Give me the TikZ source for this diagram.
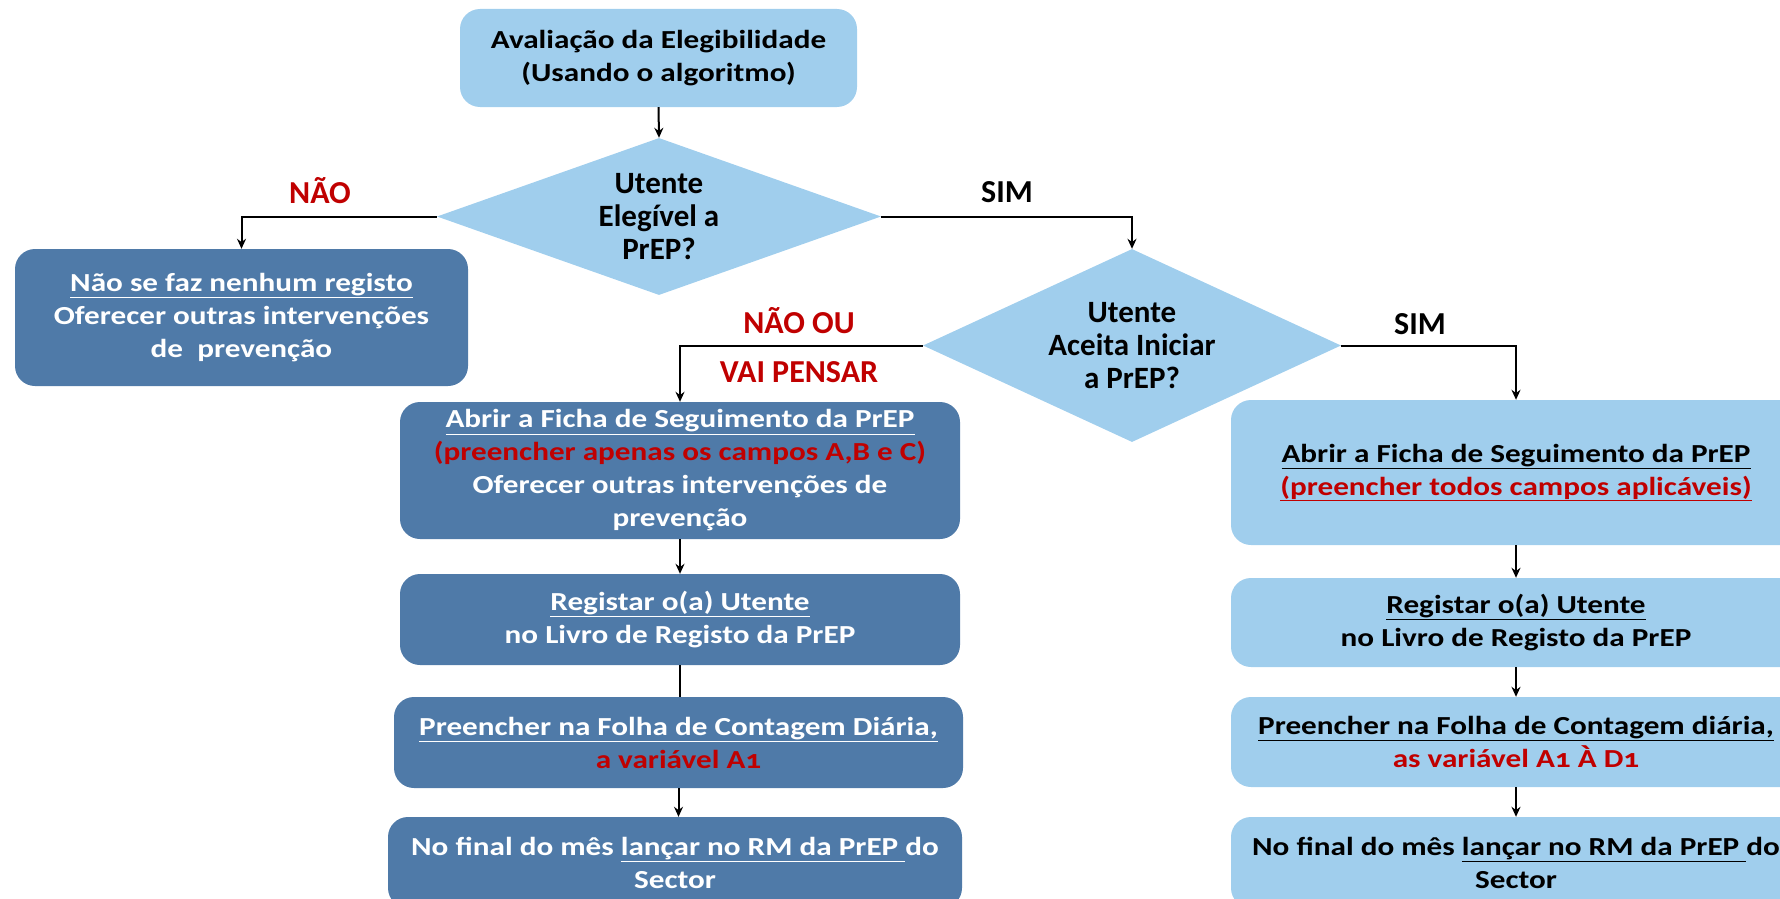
\documentclass[tikz,border=0pt]{standalone}
\usepackage{fontspec}
\setmainfont{Carlito}
\newfontfamily\boxfont[FakeStretch=1.2]{Carlito}
\newfontfamily\boxfontold[FakeStretch=1.2,Numbers=OldStyle]{Carlito}
\usetikzlibrary{shapes.geometric,arrows.meta}
\definecolor{lb}{RGB}{160,206,237}
\definecolor{db}{RGB}{79,122,168}
\definecolor{rd}{RGB}{192,0,0}
\begin{document}
\begin{tikzpicture}[x=1pt,y=-1pt,
 box/.style={rounded corners=20pt, align=center, inner sep=0pt, font=\boxfont\fontsize{26}{33}\selectfont\bfseries},
 lbox/.style={box, fill=lb, text=black},
 dbox/.style={box, fill=db, text=white},
 dia/.style={diamond, fill=lb, inner sep=0pt, align=center, font=\fontsize{31}{33}\selectfont\bfseries},
 arr/.style={-{Stealth[length=10pt,width=9pt]}, line width=2pt},
 ln/.style={line width=2pt},
 lab/.style={font=\fontsize{32}{34}\selectfont\bfseries}]
\useasboundingbox (0,0) rectangle (1780,899);
\begin{scope}
\clip (0,0) rectangle (1780,899);
\node[lbox, minimum width=397pt, minimum height=98pt] (top) at (658.5,58) {Avaliação da Elegibilidade\\(Usando o algoritmo)};
\node[dia, aspect=2.8, minimum width=444pt, minimum height=157pt] (d1) at (659,216.5) {Utente\\Elegível a\\PrEP?};
\node[dbox, minimum width=453pt, minimum height=137pt] (n1) at (241.5,317.5) {\underline{Não se faz nenhum registo}\\Oferecer outras intervenções\\de\ \ prevenção};
\node[dia, aspect=2.2, minimum width=418pt, minimum height=193pt] (d2) at (1132,345.5) {Utente\\Aceita Iniciar\\a PrEP?};
\node[dbox, minimum width=560pt, minimum height=137pt] (l1) at (680,470.5) {\underline{Abrir a Ficha de Seguimento da PrEP}\\\textcolor{rd}{(preencher apenas os campos A,B e C)}\\Oferecer outras intervenções de\\prevenção};
\node[dbox, minimum width=560pt, minimum height=91pt] (l2) at (680,619.5) {\underline{Registar o(a) Utente}\\no Livro de Registo da PrEP};
\node[dbox, minimum width=569pt, minimum height=91pt] (l3) at (678.5,742.5) {\underline{Preencher na Folha de Contagem Diária,}\\\textcolor{rd}{a variável A{\boxfontold 1}}};
\node[dbox, minimum width=574pt, minimum height=91pt] (l4) at (675,862.5) {No final do mês \underline{lançar no RM da PrEP\ }do\\Sector};
\node[lbox, minimum width=570pt, minimum height=145pt] (r1) at (1516,472.5) {\underline{Abrir a Ficha de Seguimento da PrEP}\\\textcolor{rd}{\underline{(preencher todos campos aplicáveis)}}};
\node[lbox, minimum width=570pt, minimum height=89pt] (r2) at (1516,622.5) {\underline{Registar o(a) Utente}\\no Livro de Registo da PrEP};
\node[lbox, minimum width=570pt, minimum height=90pt] (r3) at (1516,742) {\underline{Preencher na Folha de Contagem diária,}\\\textcolor{rd}{as variável A{\boxfontold 1} À D{\boxfontold 1}}};
\node[lbox, minimum width=570pt, minimum height=91pt] (r4) at (1516,862.5) {No final do mês \underline{lançar no RM da PrEP\ }do\\Sector};
\end{scope}
\node[lab, text=rd] (tnao) at (320,191) {NÃO};
\node[lab] (tsim1) at (1007,192) {SIM};
\node[lab, text=rd] (tnaoou) at (799,321) {NÃO OU};
\node[lab, text=rd] (tvai) at (799,372) {VAI PENSAR};
\node[lab] (tsim2) at (1420,324) {SIM};
\draw[arr] (top.south) -- (d1.north);
\draw[arr] (d1.west) -| (n1.north);
\draw[arr] (d1.east) -| (d2.north);
\draw[arr] (d2.west) -| (l1.north);
\draw[arr] (d2.east) -| (r1.north);
\draw[arr] (l1.south) -- (l2.north);
\draw[ln] (l2.south) -- (l2.south |- l3.north);
\draw[arr] (l3.south) -- (l3.south |- l4.north);
\draw[arr] (r1.south) -- (r2.north);
\draw[arr] (r2.south) -- (r3.north);
\draw[arr] (r3.south) -- (r4.north);
\end{tikzpicture}
\end{document}
